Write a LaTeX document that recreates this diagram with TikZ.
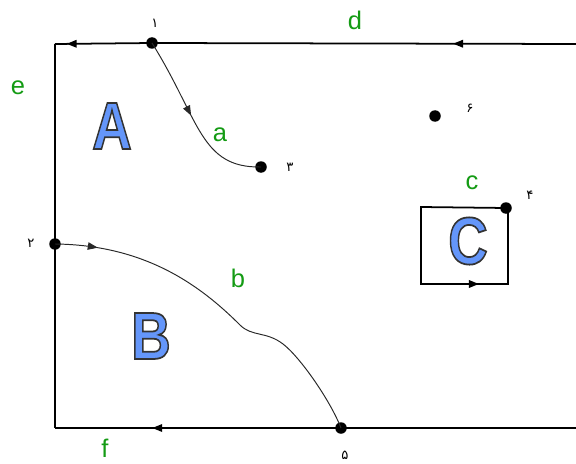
\documentclass[tikz,border=0pt]{standalone}
\usepackage{fontspec}
\setmainfont{Liberation Sans}
\newfontfamily\persfont[Script=Arabic]{DejaVu Sans}
\usepackage{tikz}
\usetikzlibrary{arrows.meta,decorations.markings}
\TeXXeTstate=1
\definecolor{LabelGreen}{RGB}{20,155,20}
\definecolor{RegionBlue}{RGB}{100,150,250}
\definecolor{EdgeGray}{RGB}{40,40,40}
% big outlined letters (fill + stroke text mode)
\newcommand{\regionletter}[1]{{\fontsize{76}{76}\selectfont\bfseries\color{RegionBlue}%
  \special{pdf:literal direct 2 Tr 0.2 0.2 0.2 RG 2 w}#1\special{pdf:literal direct 0 Tr}}}
\newcommand{\pnum}[1]{{\persfont\fontsize{15}{15}\selectfont\beginR #1\endR}}
\tikzset{
  border/.style={line width=2pt},
  cutline/.style={line width=1.1pt, EdgeGray},
  dot/.style={circle, fill=black, inner sep=0pt, minimum size=4.6mm},
  edgelabel/.style={text=LabelGreen, inner sep=1pt, font=\fontsize{29}{29}\selectfont},
  arrowat/.style={postaction={decorate, decoration={markings,
    mark=at position #1 with {\arrow{Triangle[length=4mm,width=3mm]}}}}}
}

\begin{document}
\begin{tikzpicture}[x=0.4mm,y=-0.4mm]
  \useasboundingbox (0,0) rectangle (576,464);
  % corners of the outer boundary
  \coordinate (tl) at (55,44);
  \coordinate (bl) at (55,428);
  \coordinate (tr) at (576,44);
  \coordinate (br) at (576,428);
  % points
  \node[dot] (p1) at (152,43) {};
  \node[dot] (p2) at (55,244) {};
  \node[dot] (p3) at (261,167) {};
  \node[dot] (p4) at (506,208) {};
  \node[dot] (p5) at (341,428) {};
  \node[dot] (p6) at (435,116) {};
  \node at (155,23) {\pnum{۱}};
  \node at (31,243) {\pnum{۲}};
  \node at (290,167) {\pnum{۳}};
  \node at (530,195) {\pnum{۴}};
  \node at (345,455) {\pnum{۵}};
  \node at (470,108) {\pnum{۶}};

  % outer boundary
  \draw[border, arrowat=0.29] (tr) -- (p1.center);
  \draw[border, arrowat=0.88] (p1.center) -- (tl);
  \draw[border] (tl) -- (p2.center) -- (bl);
  \draw[border] (br) -- (p5.center);
  \draw[border, arrowat=0.66] (p5.center) -- (bl);

  % cuts a and b
  \draw[cutline, arrowat=0.47] (p1.center) .. controls (200,120) and (200,168) .. (p3.center);
  \draw[cutline, arrowat=0.12] (p2.center) .. controls (145,245) and (200,285) .. (240,325)
    .. controls (252,337) and (266,331) .. (283,344)
    .. controls (300,357) and (330,400) .. (p5.center);

  % loop c
  \draw[border, arrowat=0.67] (p4.center) -- (421,207) -- (421,284) -- (508,284) -- (508,207) -- cycle;

  % edge labels
  \node[edgelabel] (ld) at (355,20) {d};
  \node[edgelabel] (le) at (18,88) {e};
  \node[edgelabel] (la) at (220,135) {a};
  \node[edgelabel] (lb) at (238,278) {b};
  \node[edgelabel] (lc) at (472,183) {c};
  \node[edgelabel] (lf) at (105,448) {f};

  % regions
  \node[xscale=0.82] (rA) at (112,126) {\regionletter{A}};
  \node[xscale=0.82] (rB) at (151,336) {\regionletter{B}};
  \node[xscale=0.82] (rC) at (468,241) {\regionletter{C}};
\end{tikzpicture}
\end{document}
